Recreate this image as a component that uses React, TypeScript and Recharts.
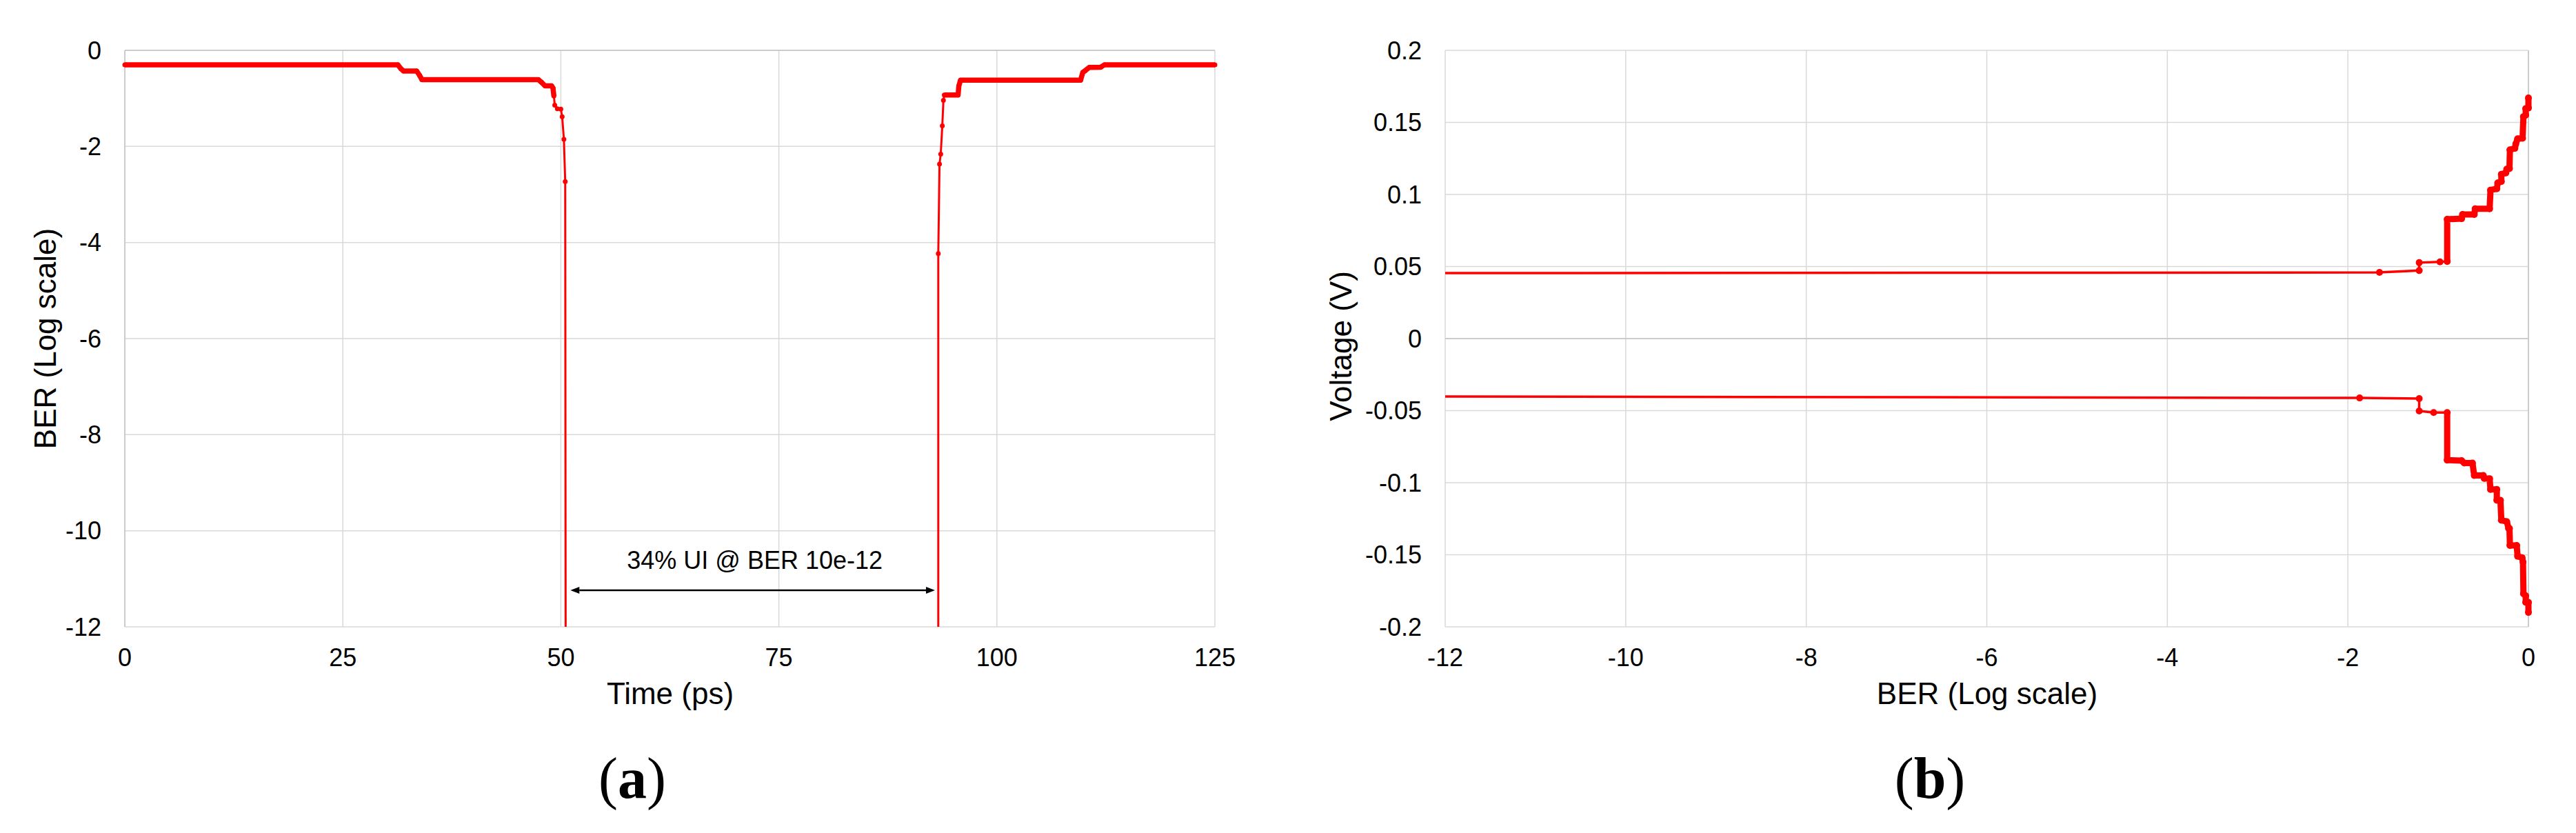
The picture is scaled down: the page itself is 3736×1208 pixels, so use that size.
import React from "react";
import {
  LineChart,
  Line,
  XAxis,
  YAxis,
  CartesianGrid,
  ReferenceLine,
} from "recharts";

const RED = "#ff0000";
const GRID = "#d9d9d9";
const AXIS = "#c4c4c4";
const SANS = "'Liberation Sans', Arial, Helvetica, sans-serif";
const SERIF = "'Liberation Serif', 'Times New Roman', serif";

// (a) bathtub curve: log10(BER) against sampling time
const timeTicks = [0, 25, 50, 75, 100, 125];
const berTicks = [-12, -10, -8, -6, -4, -2, 0];

const fallTime = [0, 31.3, 31.65, 31.96, 33.47, 33.8, 34.07, 47.43, 47.78, 48.2, 48.94, 49.1, 49.2, 49.3, 49.6, 50.0, 50.15, 50.35, 50.5, 50.55];
const fallBer = [-0.3, -0.3, -0.38, -0.43, -0.43, -0.52, -0.61, -0.61, -0.665, -0.74, -0.74, -0.785, -0.95, -1.14, -1.215, -1.225, -1.38, -1.85, -2.73, -12];

const riseTime = [93.28, 93.28, 93.42, 93.56, 93.74, 93.87, 93.97, 95.55, 95.64, 95.83, 109.6, 109.85, 110.07, 110.6, 111.9, 112.35, 125];
const riseBer = [-12, -4.23, -2.37, -2.16, -1.57, -1.04, -0.93, -0.93, -0.74, -0.62, -0.62, -0.46, -0.43, -0.354, -0.35, -0.3, -0.3];

// eye opening at BER 1e-12
const eyeLeft = 51.1;
const eyeRight = 92.9;
const eyeBer = -11.24;
const eyeLabel = "34% UI @ BER 10e-12";

// (b) voltage contour: voltage against log10(BER)
const logBerTicks = [-12, -10, -8, -6, -4, -2, 0];
const voltTicks = [-0.2, -0.15, -0.1, -0.05, 0, 0.05, 0.1, 0.15, 0.2];

const upperBer = [-12, -1.65, -1.21, -1.21, -0.98, -0.9, -0.9, -0.74, -0.73, -0.6, -0.59, -0.43, -0.42, -0.35, -0.34, -0.3, -0.3, -0.25, -0.24, -0.21, -0.205, -0.15, -0.14, -0.12, -0.065, -0.055, -0.03, -0.03, 0, 0];
const upperVolt = [0.0454, 0.0459, 0.0472, 0.0527, 0.0532, 0.0535, 0.0828, 0.0832, 0.0861, 0.0861, 0.0901, 0.0901, 0.103, 0.104, 0.108, 0.109, 0.114, 0.115, 0.1176, 0.118, 0.131, 0.132, 0.135, 0.1386, 0.139, 0.154, 0.155, 0.1596, 0.16, 0.167];

const lowerBer = [-12, -1.87, -1.21, -1.21, -1.05, -0.9, -0.9, -0.74, -0.71, -0.62, -0.6, -0.5, -0.49, -0.43, -0.42, -0.35, -0.35, -0.31, -0.3, -0.24, -0.22, -0.21, -0.205, -0.13, -0.12, -0.07, -0.06, -0.055, -0.03, -0.03, 0, 0];
const lowerVolt = [-0.0402, -0.0412, -0.0416, -0.0502, -0.0513, -0.0513, -0.0843, -0.0847, -0.0864, -0.0864, -0.095, -0.095, -0.097, -0.0972, -0.1047, -0.1047, -0.1122, -0.1122, -0.126, -0.127, -0.1317, -0.1317, -0.1435, -0.1435, -0.151, -0.152, -0.155, -0.177, -0.1785, -0.183, -0.183, -0.19];

const fall = fallTime.map((t, i) => ({ t, ber: fallBer[i] }));
const rise = riseTime.map((t, i) => ({ t, ber: riseBer[i] }));
const upper = upperBer.map((ber, i) => ({ ber, v: upperVolt[i] }));
const lower = lowerBer.map((ber, i) => ({ ber, v: lowerVolt[i] }));

// dense marker regions read as a thicker trace
const fallThick = fall.filter((p) => p.ber > -0.96);
const riseThick = rise.filter((p) => p.ber > -0.96);
const upperThick = upper.filter((p) => p.ber >= -0.92);
const lowerThick = lower.filter((p) => p.ber >= -0.92);

const tickStyle = { fill: "#000", fontSize: 36, fontFamily: SANS };

const EyeArrow = (props: any) => {
  const { x1, y1, x2, y2 } = props;
  const h = 13;
  const w = 5;
  return (
    <g>
      <line x1={x1 + h} y1={y1} x2={x2 - h} y2={y2} stroke="#000" strokeWidth={2.5} />
      <polygon points={`${x1},${y1} ${x1 + h},${y1 - w} ${x1 + h},${y1 + w}`} fill="#000" />
      <polygon points={`${x2},${y2} ${x2 - h},${y2 - w} ${x2 - h},${y2 + w}`} fill="#000" />
      <text x={(x1 + x2) / 2 + 3} y={y1 - 31} textAnchor="middle" fontSize={36} fontFamily={SANS} fill="#000">
        {eyeLabel}
      </text>
    </g>
  );
};

// no marker where the trace leaves the plot at BER 1e-12
const bathtubDot = (p: any) =>
  p.value <= -12 ? (
    <g key={`s${p.index}`} />
  ) : (
    <circle key={`d${p.index}`} cx={p.cx} cy={p.cy} r={3.5} fill={RED} />
  );

const contourDot = (p: any) =>
  p.index === 0 ? (
    <g key={`s${p.index}`} />
  ) : (
    <circle key={`d${p.index}`} cx={p.cx} cy={p.cy} r={5} fill={RED} />
  );

function BathtubChart() {
  return (
    <LineChart width={1868} height={1208} margin={{ top: 73, right: 106, bottom: 239, left: 0 }}>
      <CartesianGrid stroke={GRID} strokeWidth={1.5} />
      <XAxis
        type="number"
        dataKey="t"
        domain={[0, 125]}
        ticks={timeTicks}
        axisLine={false}
        tickLine={false}
        tickSize={0}
        tickMargin={31}
        height={60}
        tick={tickStyle}
      />
      <YAxis
        type="number"
        dataKey="ber"
        domain={[-12, 0]}
        ticks={berTicks}
        axisLine={false}
        tickLine={false}
        tickSize={0}
        tickMargin={34}
        width={181}
        tick={tickStyle}
      />
      <ReferenceLine y={0} stroke={AXIS} strokeWidth={1.5} />
      <ReferenceLine x={0} stroke={AXIS} strokeWidth={1.5} />
      <Line data={fallThick} dataKey="ber" stroke={RED} strokeWidth={7.5} dot={false} isAnimationActive={false} strokeLinejoin="round" />
      <Line data={riseThick} dataKey="ber" stroke={RED} strokeWidth={7.5} dot={false} isAnimationActive={false} strokeLinejoin="round" />
      <Line data={fall} dataKey="ber" stroke={RED} strokeWidth={3} dot={bathtubDot} isAnimationActive={false} />
      <Line data={rise} dataKey="ber" stroke={RED} strokeWidth={3} dot={bathtubDot} isAnimationActive={false} />
      <ReferenceLine
        segment={[
          { x: eyeLeft, y: eyeBer },
          { x: eyeRight, y: eyeBer },
        ]}
        shape={EyeArrow}
        ifOverflow="visible"
      />
    </LineChart>
  );
}

function ContourChart() {
  return (
    <LineChart width={1868} height={1208} margin={{ top: 73, right: 69, bottom: 239, left: 0 }}>
      <CartesianGrid stroke={GRID} strokeWidth={1.5} />
      <XAxis
        type="number"
        dataKey="ber"
        domain={[-12, 0]}
        ticks={logBerTicks}
        axisLine={false}
        tickLine={false}
        tickSize={0}
        tickMargin={31}
        height={60}
        tick={tickStyle}
      />
      <YAxis
        type="number"
        dataKey="v"
        domain={[-0.2, 0.2]}
        ticks={voltTicks}
        axisLine={false}
        tickLine={false}
        tickSize={0}
        tickMargin={34}
        width={228}
        tick={tickStyle}
      />
      <ReferenceLine y={0} stroke={AXIS} strokeWidth={1.5} />
      <ReferenceLine x={0} stroke={AXIS} strokeWidth={1.5} />
      <Line data={upperThick} dataKey="v" stroke={RED} strokeWidth={9} dot={false} isAnimationActive={false} strokeLinejoin="round" />
      <Line data={lowerThick} dataKey="v" stroke={RED} strokeWidth={9} dot={false} isAnimationActive={false} strokeLinejoin="round" />
      <Line data={upper} dataKey="v" stroke={RED} strokeWidth={3.5} dot={contourDot} isAnimationActive={false} />
      <Line data={lower} dataKey="v" stroke={RED} strokeWidth={3.5} dot={contourDot} isAnimationActive={false} />
    </LineChart>
  );
}

export default function App() {
  return (
    <div style={{ position: "absolute", left: 0, top: 0, width: 3736, height: 1208, background: "#fff" }}>
      <div style={{ position: "absolute", left: 0, top: 0 }}>
        <BathtubChart />
      </div>
      <div style={{ position: "absolute", left: 1868, top: 0 }}>
        <ContourChart />
      </div>
      <svg
        width={3736}
        height={1208}
        style={{ position: "absolute", left: 0, top: 0, pointerEvents: "none" }}
      >
        <g fontFamily={SANS} fontSize={44} fill="#000">
          <text x={972} y={1021} textAnchor="middle">Time (ps)</text>
          <text transform="translate(81,491) rotate(-90)" textAnchor="middle">BER (Log scale)</text>
          <text x={2882} y={1021} textAnchor="middle">BER (Log scale)</text>
          <text transform="translate(1960,502) rotate(-90)" textAnchor="middle">Voltage (V)</text>
        </g>
        <g fontFamily={SERIF} fontSize={84} fill="#000">
          <text x={917} y={1157} textAnchor="middle">
            (<tspan fontWeight="bold">a</tspan>)
          </text>
          <text x={2799} y={1157} textAnchor="middle">
            (<tspan fontWeight="bold">b</tspan>)
          </text>
        </g>
      </svg>
    </div>
  );
}
